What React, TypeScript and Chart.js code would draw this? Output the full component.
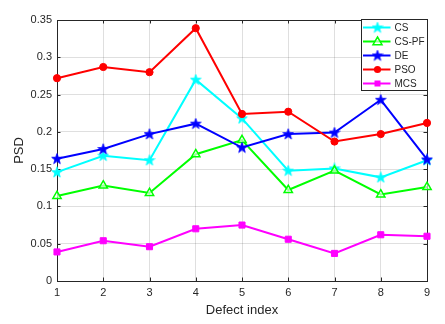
import React, { useEffect, useRef } from 'react';
import { Chart, registerables } from 'chart.js';

Chart.register(...registerables);

const categories = ['1', '2', '3', '4', '5', '6', '7', '8', '9'];
const csValues = [0.146, 0.168, 0.162, 0.270, 0.218, 0.148, 0.151, 0.139, 0.162];
const csPfValues = [0.114, 0.128, 0.118, 0.170, 0.189, 0.122, 0.148, 0.116, 0.126];
const deValues = [0.164, 0.177, 0.197, 0.211, 0.179, 0.197, 0.199, 0.243, 0.163];
const psoValues = [0.272, 0.287, 0.280, 0.339, 0.224, 0.227, 0.187, 0.197, 0.212];
const mcsValues = [0.039, 0.054, 0.046, 0.070, 0.075, 0.056, 0.037, 0.062, 0.060];
const seriesNames = ['CS', 'CS-PF', 'DE', 'PSO', 'MCS'];
const yTicks = [0, 0.05, 0.1, 0.15, 0.2, 0.25, 0.3, 0.35];

const FONT = "'Liberation Sans', Arial, sans-serif";
const TEXT = '#262626';

function makeStar(color: string): HTMLCanvasElement {
  const c = document.createElement('canvas');
  c.width = 12;
  c.height = 12;
  const g = c.getContext('2d')!;
  const cx = 6, cy = 6.3, R = 5.6, r = 2.3;
  g.beginPath();
  for (let i = 0; i < 10; i++) {
    const rad = i % 2 === 0 ? R : r;
    const a = -Math.PI / 2 + (i * Math.PI) / 5;
    const px = cx + rad * Math.cos(a);
    const py = cy + rad * Math.sin(a);
    if (i === 0) g.moveTo(px, py);
    else g.lineTo(px, py);
  }
  g.closePath();
  g.fillStyle = color;
  g.fill();
  g.strokeStyle = color;
  g.lineWidth = 0.8;
  g.stroke();
  return c;
}

function drawMarker(ctx: CanvasRenderingContext2D, kind: string, color: string, x: number, y: number, star?: HTMLCanvasElement) {
  ctx.save();
  ctx.fillStyle = color;
  ctx.strokeStyle = color;
  if (kind === 'star' && star) {
    ctx.drawImage(star, x - star.width / 2, y - star.height / 2);
  } else if (kind === 'circle') {
    ctx.beginPath();
    ctx.arc(x, y, 3.6, 0, Math.PI * 2);
    ctx.fill();
  } else if (kind === 'rect') {
    ctx.fillRect(x - 3, y - 3, 6, 6);
  } else if (kind === 'triangle') {
    ctx.lineWidth = 1.5;
    ctx.beginPath();
    ctx.moveTo(x, y - 4.5);
    ctx.lineTo(x + 4.5, y + 3.2);
    ctx.lineTo(x - 4.5, y + 3.2);
    ctx.closePath();
    ctx.fillStyle = 'rgba(255,255,255,0.6)';
    ctx.fill();
    ctx.stroke();
  }
  ctx.restore();
}

export default function App() {
  const ref = useRef<HTMLCanvasElement | null>(null);

  useEffect(() => {
    document.body.style.margin = '0';
    const canvas = ref.current;
    if (!canvas) return;

    const cyanStar = makeStar('#00ffff');
    const blueStar = makeStar('#0000ff');

    const colors = ['#00ffff', '#00ff00', '#0000ff', '#ff0000', '#ff00ff'];
    const kinds = ['star', 'triangle', 'star', 'circle', 'rect'];
    const stars: (HTMLCanvasElement | undefined)[] = [cyanStar, undefined, blueStar, undefined, undefined];

    const framePlugin = {
      id: 'frame',
      beforeDatasetsDraw(chart: any) {
        const ctx = chart.ctx as CanvasRenderingContext2D;
        const { left, right, top, bottom } = chart.chartArea;
        ctx.save();
        ctx.strokeStyle = TEXT;
        ctx.lineWidth = 1;
        ctx.beginPath();
        ctx.rect(Math.round(left) + 0.5, Math.round(top) + 0.5, Math.round(right - left), Math.round(bottom - top));
        ctx.stroke();
        const xs = chart.scales.x;
        const ys = chart.scales.y;
        ctx.beginPath();
        for (let i = 0; i < xs.ticks.length; i++) {
          const px = Math.round(xs.getPixelForTick(i)) + 0.5;
          ctx.moveTo(px, bottom);
          ctx.lineTo(px, bottom - 3.5);
          ctx.moveTo(px, top);
          ctx.lineTo(px, top + 3.5);
        }
        for (let i = 0; i < ys.ticks.length; i++) {
          const py = Math.round(ys.getPixelForTick(i)) + 0.5;
          ctx.moveTo(left, py);
          ctx.lineTo(left + 3.5, py);
          ctx.moveTo(right, py);
          ctx.lineTo(right - 3.5, py);
        }
        ctx.stroke();
        ctx.restore();
      },
    };

    const legendPlugin = {
      id: 'boxLegend',
      afterDraw(chart: any) {
        const ctx = chart.ctx as CanvasRenderingContext2D;
        const { right, top } = chart.chartArea;
        const w = 66, h = 71;
        const x0 = Math.round(right) - w + 0.5;
        const y0 = Math.round(top) - 1 + 0.5;
        ctx.save();
        ctx.fillStyle = '#ffffff';
        ctx.fillRect(x0, y0, w, h);
        ctx.strokeStyle = TEXT;
        ctx.lineWidth = 1;
        ctx.strokeRect(x0, y0, w, h);
        for (let i = 0; i < seriesNames.length; i++) {
          const yy = y0 + 8 + 14 * i;
          ctx.strokeStyle = colors[i];
          ctx.lineWidth = 2;
          ctx.beginPath();
          ctx.moveTo(x0 + 1.5, yy);
          ctx.lineTo(x0 + 29, yy);
          ctx.stroke();
          drawMarker(ctx, kinds[i], colors[i], x0 + 16, yy, stars[i]);
          ctx.fillStyle = TEXT;
          ctx.font = `10px ${FONT}`;
          ctx.textAlign = 'left';
          ctx.textBaseline = 'middle';
          ctx.fillText(seriesNames[i], x0 + 33, yy + 0.5);
        }
        ctx.restore();
      },
    };

    const mk = (label: string, data: number[], color: string, extra: any) => ({
      label,
      data,
      borderColor: color,
      backgroundColor: color,
      borderWidth: 2,
      pointBackgroundColor: color,
      pointBorderColor: color,
      pointBorderWidth: 1,
      tension: 0,
      fill: false,
      ...extra,
    });

    const chart = new Chart(canvas, {
      type: 'line',
      data: {
        labels: categories,
        datasets: [
          mk(seriesNames[4], mcsValues, colors[4], { pointStyle: 'rect', pointRadius: 4.3 }),
          mk(seriesNames[3], psoValues, colors[3], { pointStyle: 'circle', pointRadius: 3.6 }),
          mk(seriesNames[2], deValues, colors[2], { pointStyle: blueStar, pointRadius: 6 }),
          mk(seriesNames[1], csPfValues, colors[1], {
            pointStyle: 'triangle',
            pointRadius: 4.8,
            pointBorderWidth: 1.5,
            pointBackgroundColor: 'rgba(255,255,255,0.6)',
          }),
          mk(seriesNames[0], csValues, colors[0], { pointStyle: cyanStar, pointRadius: 6 }),
        ],
      },
      options: {
        responsive: false,
        animation: false,
        events: [],
        layout: { padding: { left: 0, right: 18, top: 20, bottom: 0 } },
        plugins: {
          legend: { display: false },
          tooltip: { enabled: false },
        },
        scales: {
          x: {
            type: 'category',
            offset: false,
            afterFit: (s: any) => {
              s.height = 43;
            },
            grid: { color: 'rgba(38,38,38,0.15)', drawTicks: false },
            border: { color: TEXT, width: 1 },
            ticks: { color: TEXT, font: { family: FONT, size: 11 }, padding: 5, maxRotation: 0 },
            title: {
              display: true,
              text: 'Defect index',
              color: TEXT,
              font: { family: FONT, size: 13 },
              padding: { top: 0, bottom: 5.5 },
            },
          },
          y: {
            type: 'linear',
            min: 0,
            max: 0.35,
            afterFit: (s: any) => {
              s.width = 57;
            },
            afterBuildTicks: (s: any) => {
              s.ticks = yTicks.map((v) => ({ value: v }));
            },
            grid: { color: 'rgba(38,38,38,0.15)', drawTicks: false },
            border: { color: TEXT, width: 1 },
            ticks: {
              color: TEXT,
              font: { family: FONT, size: 11 },
              padding: 5,
              callback: (v: any) => String(Number(Number(v).toFixed(2))),
            },
            title: {
              display: true,
              text: 'PSD',
              color: TEXT,
              font: { family: FONT, size: 13 },
              padding: { top: 12, bottom: 0 },
            },
          },
        },
      },
      plugins: [framePlugin, legendPlugin],
    });

    return () => {
      chart.destroy();
    };
  }, []);

  return (
    <div style={{ width: 445, height: 324, background: '#ffffff' }}>
      <canvas ref={ref} width={445} height={324} style={{ display: 'block' }} />
    </div>
  );
}
